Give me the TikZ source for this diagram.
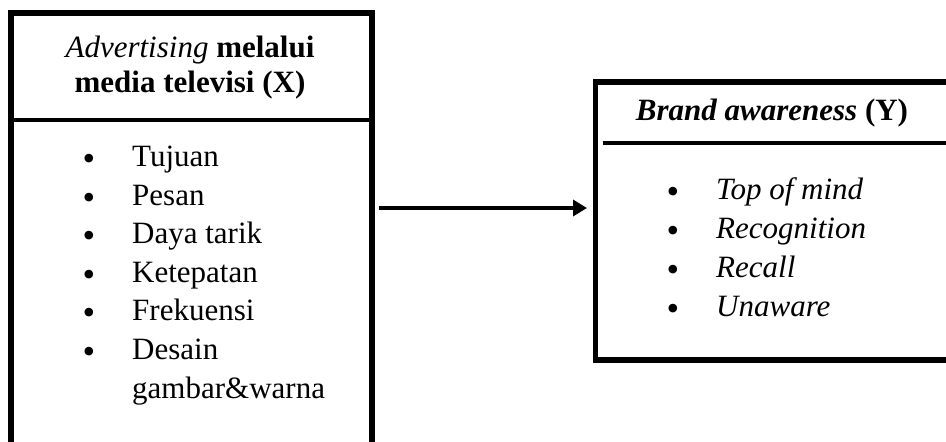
\documentclass[tikz,border=0pt]{standalone}
\usepackage{fontspec}
\setmainfont{Liberation Serif}
\usetikzlibrary{arrows.meta}
\begin{document}
\begin{tikzpicture}[x=1pt,y=-1pt,
  frame/.style={draw, line width=5.5pt, inner sep=0pt, outer sep=0pt, anchor=north west},
  divider/.style={line width=4pt},
  big/.style={font=\fontsize{31}{37}\selectfont, inner sep=0pt},
  item/.style={big, anchor=base west},
  dot/.style={font=\fontsize{36}{36}\selectfont, inner sep=0pt, anchor=base},
  head/.style={big, anchor=base},
  link/.style={line width=4.5pt, -{Triangle[length=14pt,width=16pt]}}]
\path[use as bounding box] (0,0) rectangle (946,442);
\clip (0,0) rectangle (946,442);
% boxes
\node[frame, minimum width=361pt, minimum height=460pt] (L) at (11,13) {};
\node[frame, minimum width=400pt, minimum height=278pt] (R) at (595.5,82) {};
% dividers
\coordinate (ldiv) at (0,120);
\coordinate (rdiv) at (603,143);
\draw[divider] (L.west |- ldiv) -- (L.east |- ldiv);
\draw[divider] (rdiv) -- (R.east |- rdiv);
% left header
\node[head] (lh1) at (190,57) {\textit{Advertising} \textbf{melalui}};
\node[head] (lh2) at (190,92) {\textbf{media televisi (X)}};
% left list
\node[dot] (lb1) at (89,170.5) {\textbullet};
\node[item] (li1) at (132,166.5) {Tujuan};
\node[dot] (lb2) at (89,209.1) {\textbullet};
\node[item] (li2) at (132,205.1) {Pesan};
\node[dot] (lb3) at (89,247.7) {\textbullet};
\node[item] (li3) at (132,243.7) {Daya tarik};
\node[dot] (lb4) at (89,286.3) {\textbullet};
\node[item] (li4) at (132,282.3) {Ketepatan};
\node[dot] (lb5) at (89,324.9) {\textbullet};
\node[item] (li5) at (132,320.9) {Frekuensi};
\node[dot] (lb6) at (89,363.5) {\textbullet};
\node[item] (li6) at (132,359.5) {Desain};
\node[item] (li7) at (132,398.1) {gambar\&warna};
% right header
\node[head] (rh) at (772,120) {\textbf{\textit{Brand awareness} (Y)}};
% right list
\node[dot] (rb1) at (673,203) {\textbullet};
\node[item] (ri1) at (716,199) {\textit{Top of mind}};
\node[dot] (rb2) at (673,242) {\textbullet};
\node[item] (ri2) at (716,238) {\textit{Recognition}};
\node[dot] (rb3) at (673,281) {\textbullet};
\node[item] (ri3) at (716,277) {\textit{Recall}};
\node[dot] (rb4) at (673,320) {\textbullet};
\node[item] (ri4) at (716,316) {\textit{Unaware}};
% connector
\coordinate (arr) at (0,208);
\draw[link] ([xshift=6.5pt]L.east |- arr) -- ([xshift=-8.5pt]R.west |- arr);
\end{tikzpicture}
\end{document}
